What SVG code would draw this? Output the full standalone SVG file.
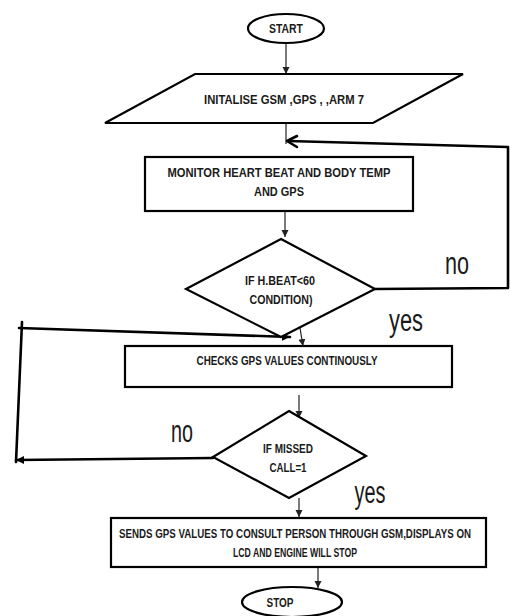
<svg xmlns="http://www.w3.org/2000/svg" width="510" height="616" viewBox="0 0 510 616">
<defs>
<marker id="ah" markerWidth="8" markerHeight="8" refX="7" refY="3.5" orient="auto" markerUnits="userSpaceOnUse">
<path d="M0,0 L7,3.5 L0,7 z" fill="#222"/>
</marker>
<marker id="ahb" markerWidth="10" markerHeight="10" refX="8" refY="4" orient="auto" markerUnits="userSpaceOnUse">
<path d="M0,0 L8,4 L0,8 z" fill="#000"/>
</marker>
<style>
.s{fill:#fff;stroke:#000;stroke-width:2.2}
.t{font-family:"Liberation Sans",Arial,sans-serif;font-weight:bold;font-size:13px;fill:#1a1a1a;text-anchor:middle}
.l{font-family:"Liberation Sans",Arial,sans-serif;font-size:31px;fill:#1a1a1a;text-anchor:middle}
.c{fill:none;stroke:#222;stroke-width:1.2}
.k{fill:none;stroke:#000;stroke-width:2.6;stroke-linecap:round;stroke-linejoin:round}
</style>
</defs>
<rect width="510" height="616" fill="#fff"/>
<g id="connectors">
<line class="c" x1="286" y1="43" x2="286" y2="74" marker-end="url(#ah)"/>
<line class="c" x1="286" y1="123" x2="286" y2="144"/>
<line class="c" x1="285" y1="211" x2="285" y2="237" marker-end="url(#ah)"/>
<line class="c" x1="300" y1="328" x2="303" y2="346" marker-end="url(#ah)"/>
<line class="c" x1="299" y1="395" x2="299" y2="418" marker-end="url(#ah)"/>
<line class="c" x1="299" y1="498" x2="299" y2="517" marker-end="url(#ah)"/>
<line class="c" x1="318" y1="567" x2="318" y2="588" marker-end="url(#ah)"/>
<polyline class="k" points="375,289 508,288 508,147 288,141"/>
<polyline class="k" points="297,136 287,141 297,147"/>
<line class="k" x1="213" y1="458" x2="16" y2="460" marker-end="url(#ahb)"/>
<line class="k" x1="16" y1="462" x2="22" y2="322"/>
<line class="k" x1="19" y1="328" x2="290" y2="337" marker-end="url(#ahb)"/>
</g>
<g id="start">
<ellipse class="s" cx="286" cy="28.5" rx="38" ry="14.5"/>
<text class="t" x="286" y="33" style="font-size:13.5px" textLength="34" lengthAdjust="spacingAndGlyphs">START</text>
</g>
<g id="init">
<polygon class="s" points="195,74 463,74 373,123 105,123"/>
<text class="t" x="284" y="104" textLength="160" lengthAdjust="spacingAndGlyphs">INITALISE GSM ,GPS , ,ARM 7</text>
</g>
<g id="monitor">
<rect class="s" x="145" y="157" width="268" height="54"/>
<text class="t" x="279" y="177" style="font-size:12px" textLength="223" lengthAdjust="spacingAndGlyphs">MONITOR HEART BEAT AND BODY TEMP</text>
<text class="t" x="279" y="196" textLength="50" lengthAdjust="spacingAndGlyphs">AND GPS</text>
</g>
<g id="cond1">
<polygon class="s" points="281,239 375,289 281,337 186,289"/>
<text class="t" x="280" y="285" textLength="70" lengthAdjust="spacingAndGlyphs">IF H.BEAT&lt;60</text>
<text class="t" x="281" y="304" textLength="63" lengthAdjust="spacingAndGlyphs">CONDITION)</text>
</g>
<g id="checks">
<rect class="s" x="125" y="346" width="327" height="41"/>
<text class="t" x="287" y="365" textLength="181" lengthAdjust="spacingAndGlyphs">CHECKS GPS VALUES CONTINOUSLY</text>
</g>
<g id="cond2">
<polygon class="s" points="289,411 366,456 289,498 213,457"/>
<text class="t" x="288" y="453" textLength="50" lengthAdjust="spacingAndGlyphs">IF MISSED</text>
<text class="t" x="288" y="472" textLength="37" lengthAdjust="spacingAndGlyphs">CALL=1</text>
</g>
<g id="sends">
<rect class="s" x="111" y="518" width="375" height="49"/>
<text class="t" x="295" y="538" style="font-size:10px" transform="matrix(1,0,0,1.2,0,-107.6)" textLength="352" lengthAdjust="spacingAndGlyphs">SENDS GPS VALUES TO CONSULT PERSON THROUGH GSM,DISPLAYS ON</text>
<text class="t" x="295" y="557" style="font-size:12px" textLength="124" lengthAdjust="spacingAndGlyphs">LCD AND ENGINE WILL STOP</text>
</g>
<g id="stop">
<ellipse class="s" cx="292" cy="602" rx="50" ry="15"/>
<text class="t" x="280" y="607" style="font-size:13.5px" textLength="27" lengthAdjust="spacingAndGlyphs">STOP</text>
</g>
<g id="labels">
<text class="l" x="457" y="274" textLength="24" lengthAdjust="spacingAndGlyphs">no</text>
<text class="l" x="406" y="331" textLength="34" lengthAdjust="spacingAndGlyphs">yes</text>
<text class="l" x="182" y="442" textLength="22" lengthAdjust="spacingAndGlyphs">no</text>
<text class="l" x="370" y="503" textLength="31" lengthAdjust="spacingAndGlyphs">yes</text>
</g>
</svg>
